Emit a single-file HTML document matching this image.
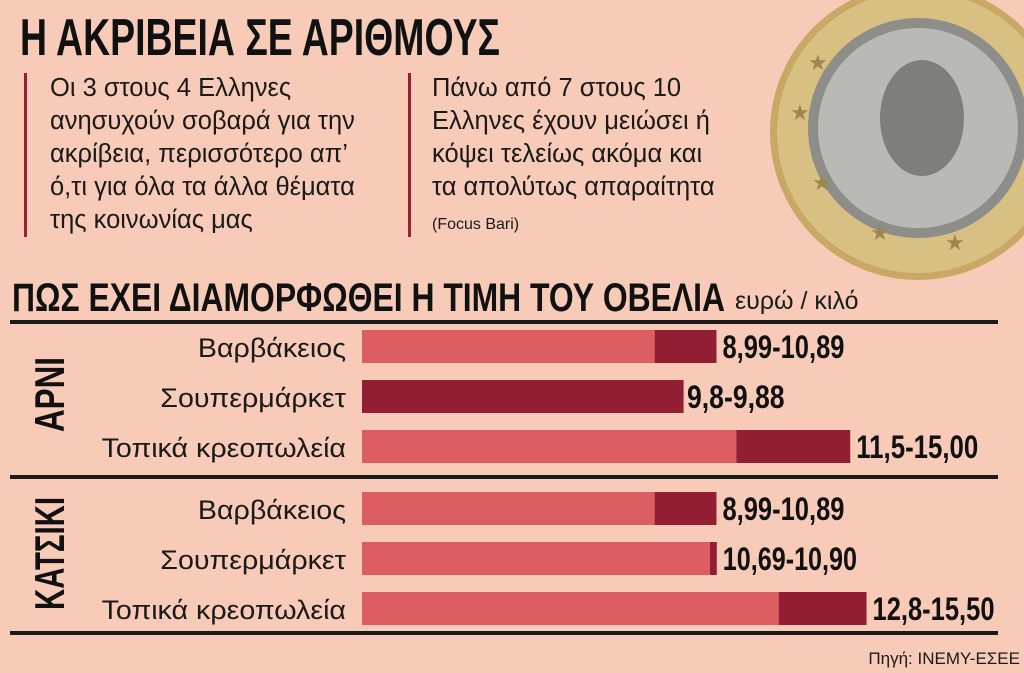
<!DOCTYPE html>
<html><head><meta charset="utf-8"><style>
html,body{margin:0;padding:0;background:#f7cbb8;}
svg{display:block;font-family:"Liberation Sans",sans-serif;}
.cond{font-family:"Liberation Sans Narrow","Liberation Sans",sans-serif;font-weight:bold;}
</style></head><body>
<svg id="chart" width="1024" height="673" viewBox="0 0 1024 673">
<rect width="1024" height="673" fill="#f7cbb8"/>
<g>
<circle cx="918" cy="132" r="148" fill="#c9a866"/>
<circle cx="918" cy="132" r="141" fill="#d8bf82"/>
<circle cx="918" cy="128" r="110" fill="#8d8d8a"/>
<circle cx="918" cy="128" r="100" fill="#b9b9b5"/>
<ellipse cx="922" cy="118" rx="42" ry="58" fill="#7e7e7b"/>
<text x="808" y="70" font-size="22" fill="#a08550">★</text>
<text x="790" y="120" font-size="22" fill="#a08550">★</text>
<text x="812" y="190" font-size="22" fill="#a08550">★</text>
<text x="870" y="240" font-size="22" fill="#a08550">★</text>
<text x="945" y="250" font-size="22" fill="#a08550">★</text>
</g>
<text class="cond" x="20" y="55" font-size="52" textLength="480" lengthAdjust="spacingAndGlyphs" fill="#111">Η ΑΚΡΙΒΕΙΑ ΣΕ ΑΡΙΘΜΟΥΣ</text>
<rect x="24" y="73" width="3" height="164" fill="#9a1f35"/>
<rect x="408" y="73" width="3" height="164" fill="#9a1f35"/>
<g font-size="25.5" fill="#1a1a1a">
<text x="50" y="96">Οι 3 στους 4 Ελληνες</text>
<text x="50" y="129">ανησυχούν σοβαρά για την</text>
<text x="50" y="162">ακρίβεια, περισσότερο απ’</text>
<text x="50" y="195">ό,τι για όλα τα άλλα θέματα</text>
<text x="50" y="228">της κοινωνίας μας</text>
</g>
<g font-size="25.5" fill="#1a1a1a">
<text x="432" y="96">Πάνω από 7 στους 10</text>
<text x="432" y="129">Ελληνες έχουν μειώσει ή</text>
<text x="432" y="162">κόψει τελείως ακόμα και</text>
<text x="432" y="195">τα απολύτως απαραίτητα</text>
<text x="432" y="229" font-size="16">(Focus Bari)</text>
</g>
<text class="cond" x="12" y="311" font-size="40" textLength="713" lengthAdjust="spacingAndGlyphs" fill="#111">ΠΩΣ ΕΧΕΙ ΔΙΑΜΟΡΦΩΘΕΙ Η ΤΙΜΗ ΤΟΥ ΟΒΕΛΙΑ</text>
<text x="735" y="309" font-size="25" fill="#1a1a1a">ευρώ / κιλό</text>
<rect x="10" y="320" width="988" height="4" fill="#1a1a1a"/>
<rect x="10" y="475" width="988" height="4" fill="#1a1a1a"/>
<rect x="10" y="631" width="988" height="4" fill="#1a1a1a"/>
<text class="cond" transform="translate(64,432) rotate(-90)" font-size="42" textLength="75" lengthAdjust="spacingAndGlyphs" fill="#111">ΑΡΝΙ</text>
<text class="cond" transform="translate(64,610) rotate(-90)" font-size="42" textLength="113" lengthAdjust="spacingAndGlyphs" fill="#111">ΚΑΤΣΙΚΙ</text>
<g id="bars"></g>
<text x="1020" y="664" text-anchor="end" font-size="17" fill="#1a1a1a">Πηγή: ΙΝΕΜΥ-ΕΣΕΕ</text>
</svg>
<script>
const categories = ["Βαρβάκειος","Σουπερμάρκετ","Τοπικά κρεοπωλεία","Βαρβάκειος","Σουπερμάρκετ","Τοπικά κρεοπωλεία"];
const lowValues = [8.99, 9.8, 11.5, 8.99, 10.69, 12.8];
const highValues = [10.89, 9.88, 15.00, 10.89, 10.90, 15.50];
const valueLabels = ["8,99-10,89","9,8-9,88","11,5-15,00","8,99-10,89","10,69-10,90","12,8-15,50"];
const fullDark = [false, true, false, false, false, false];

const NS = "http://www.w3.org/2000/svg";
const x0 = 362, pxPerUnit = 32.55;
function xScale(v){ return x0 + v * pxPerUnit; }
function yRow(i){ return i < 3 ? 330 + i * 50 : 492 + (i - 3) * 50; }
const g = document.getElementById("bars");
function mk(tag, attrs){ const e = document.createElementNS(NS, tag); for (const k in attrs) e.setAttribute(k, attrs[k]); g.appendChild(e); return e; }
categories.forEach((c, i) => {
  const y = yRow(i), h = 33;
  const lab = mk("text", {x: 346, y: y + 27, "text-anchor": "end", "font-size": 27, fill: "#1a1a1a"});
  lab.textContent = c;
  
  
  const L = lab.getComputedTextLength();
  if (L > 0) { lab.setAttribute("textLength", L * 1.06); lab.setAttribute("lengthAdjust", "spacingAndGlyphs"); }
  const lo = xScale(lowValues[i]), hi = xScale(highValues[i]);
  if (fullDark[i]) {
    const b = mk("rect", {x: x0, y: y, width: Math.max(0, Math.min(lo, hi) - x0), height: h, fill: "#921e33"});
    
    
  } else {
    const b = mk("rect", {x: x0, y: y, width: Math.max(0, lo - x0), height: h, fill: "#dd5e62"});
    
    
  }
  const d = mk("rect", {x: lo, y: y, width: Math.max(0, hi - lo), height: h, fill: "#921e33"});
  
  
  const end = fullDark[i] ? lo : hi;
  const v = mk("text", {x: end + 6, y: y + 28, "font-size": 32, fill: "#111", "class": "cond", textLength: valueLabels[i].length * 12.2, lengthAdjust: "spacingAndGlyphs"});
  v.textContent = valueLabels[i];
  
  
});
</script>
</body></html>
